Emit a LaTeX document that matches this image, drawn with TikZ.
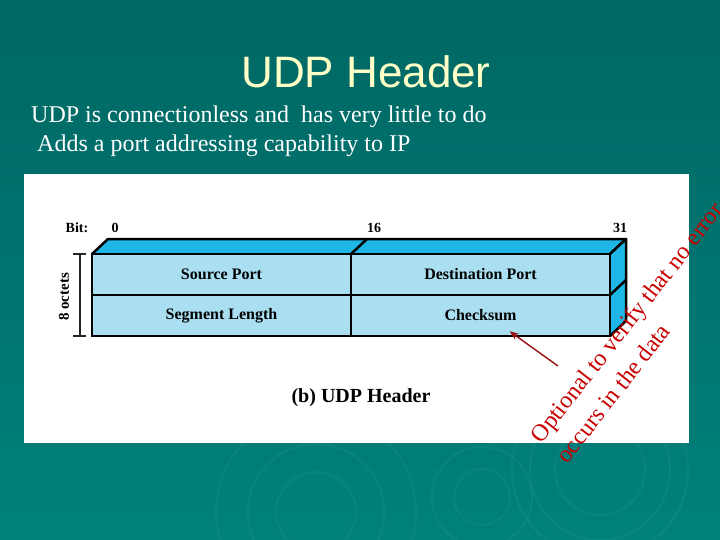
\documentclass[tikz,border=0pt]{standalone}
\usepackage{fontspec}
\setmainfont{Liberation Serif}
\setsansfont{Liberation Sans}
\usetikzlibrary{positioning, arrows.meta, calc}
\definecolor{mSeaTop}{HTML}{006763}
\definecolor{mSeaBot}{HTML}{00817C}
\definecolor{mCream}{HTML}{FFFFC8}
\definecolor{mCyan}{HTML}{1DB6E6}
\definecolor{mIce}{HTML}{A9DFF0}
\definecolor{mRed}{HTML}{C80000}
\definecolor{mDarkRed}{HTML}{9A1010}

\begin{document}
\begin{tikzpicture}[
  x=1pt, y=-1pt,
  every node/.style={inner sep=0pt},
  field/.style={draw=black, line width=2.5pt, fill=mIce, minimum width=259pt,
                minimum height=41pt, font=\bfseries\fontsize{16}{18}\selectfont},
  face/.style={draw=black, line width=2.5pt, fill=mCyan, line join=round},
  bitlbl/.style={font=\bfseries\fontsize{14}{16}\selectfont, anchor=base},
  body/.style={white, font=\fontsize{24}{27}\selectfont, anchor=base west},
  >=Stealth,
]
  \useasboundingbox (0,0) rectangle (720,540);
  \shade[top color=mSeaTop, bottom color=mSeaBot] (0,0) rectangle (720,540);

  % Ripples
  \foreach \cx/\cy/\r in {316/512/40, 316/512/68, 316/512/100, 482/497/28,
                          482/497/50, 600/470/45, 600/470/70, 600/470/88} {
    \draw[white, opacity=0.04, line width=2pt] (\cx,\cy) circle (\r);
  }

  % Title and bullets
  \node[mCream, font=\sffamily\fontsize{44}{50}\selectfont, anchor=base] (title) at (366,88) {UDP Header};
  \node[body] (line1) at (31,123) {UDP is connectionless and\ \ has very little to do};
  \node[body] (line2) at (37,152) {Adds a port addressing capability to IP};

  % White panel
  \fill[white] (24,174) rectangle (689,443);

  % 3D faces
  \fill[mCyan] (92,254) -- (108,239) -- (626,239) -- (626,321) -- (610,336) -- cycle;
  \draw[face] (92,254) -- (108,239) -- (626,239) -- (610,254);
  \draw[face] (610,254) -- (626,239) -- (626,321) -- (610,336);
  \draw[line width=2.5pt] (351,254) -- (367,239);
  \draw[line width=2.5pt] (610,295) -- (626,280);

  % Fields
  \node[field] (src) at (221.5,274.5) {Source Port};
  \node[field] (dst) at (480.5,274.5) {Destination Port};
  \node[field] (len) at (221.5,315.5) {Segment Length};
  \node[field] (chk) at (480.5,315.5) {Checksum};

  % Bit labels
  \node[bitlbl] (bit) at (77,233) {Bit:};
  \foreach \b/\x in {0/115, 16/374, 31/620} {
    \node[bitlbl] (b\b) at (\x,233) {\b};
  }

  % Size bracket
  \draw[line width=1.8pt, black!85] (80,254) -- (80,336);
  \draw[line width=1.8pt, black!85] (73,254) -- (86,254);
  \draw[line width=1.8pt, black!85] (73,336) -- (86,336);
  \node[rotate=90, font=\bfseries\fontsize{15}{17}\selectfont] (oct) at (64,297) {8 octets};

  % Caption
  \node[font=\bfseries\fontsize{20}{22}\selectfont] (cap) at (361,398) {(b) UDP Header};

  % Note
  \coordinate (tail) at (558,366);
  \draw[<-, mDarkRed, line width=1.4pt] ([xshift=29pt, yshift=6pt]chk.south) -- (tail);
  \node[mRed, rotate=52, anchor=north west, align=left,
        font=\fontsize{24}{33}\selectfont] (note) at (528,434)
        {Optional to verify that no error\\occurs in the data};
\end{tikzpicture}
\end{document}
